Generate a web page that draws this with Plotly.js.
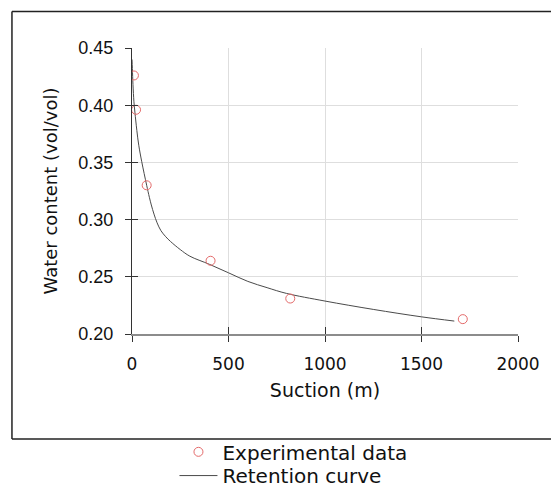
<!DOCTYPE html>
<html>
<head>
<meta charset="utf-8">
<script src="https://cdn.plot.ly/plotly-3.0.1.min.js"></script>
<style>html,body{margin:0;padding:0;background:#fff;}#chart{width:551px;height:491px;}</style>
</head>
<body>
<div id="chart"></div>
<script>
// Experimental data (suction in m, water content vol/vol)
const expSuction = [10, 21, 76, 407, 820, 1714];
const expWater = [0.426, 0.396, 0.330, 0.264, 0.231, 0.213];

// Retention curve
const curveSuction = [0, 2, 5, 10, 15, 25, 35, 50, 76, 90, 100, 114, 130, 150, 175, 200, 250, 300, 400, 500, 600, 700, 800, 1000, 1250, 1500, 1670];
const curveWater = [0.440, 0.432, 0.418, 0.403, 0.394, 0.378, 0.365, 0.351, 0.330, 0.3195, 0.3128, 0.3048, 0.2972, 0.2903, 0.2850, 0.2808, 0.2738, 0.268, 0.261, 0.2535, 0.246, 0.2405, 0.2355, 0.2288, 0.2215, 0.215, 0.2113];

const legendNames = ["Experimental data", "Retention curve"];
const xTitle = "Suction (m)";
const yTitle = "Water content (vol/vol)";
const xRange = [0, 2000];
const yRange = [0.20, 0.45];

const mainFont = "DejaVu Sans, sans-serif";

const traces = [
  {
    x: curveSuction, y: curveWater, type: "scatter", mode: "lines",
    name: legendNames[1], legend: "legend2",
    line: {color: "#4a4a4a", width: 1, shape: "spline", smoothing: 1}
  },
  {
    x: expSuction, y: expWater, type: "scatter", mode: "markers",
    name: legendNames[0], legend: "legend",
    marker: {symbol: "circle-open", size: 9, color: "#e46a6a", line: {width: 1, color: "#e46a6a"}}
  },
  {
    x: [], y: [], xaxis: "x2", yaxis: "y2", type: "scatter", mode: "markers",
    showlegend: false, hoverinfo: "skip"
  }
];

const layout = {
  width: 551, height: 491,
  margin: {l: 132, r: 33, t: 48, b: 157, autoexpand: false},
  paper_bgcolor: "#fff", plot_bgcolor: "#fff",
  showlegend: true,
  xaxis: {
    range: xRange, dtick: 500, tick0: 0,
    showgrid: true, gridcolor: "#dedede", gridwidth: 1, zeroline: false,
    showline: true, linecolor: "#8c8c8c", linewidth: 2,
    ticks: "outside", ticklen: 6, tickcolor: "#333", tickwidth: 1,
    ticklabelstandoff: 8,
    tickfont: {family: mainFont, size: 17, color: "#111"},
    title: {text: xTitle, font: {family: mainFont, size: 19, color: "#111"}, standoff: 10},
    automargin: false
  },
  xaxis2: {
    range: xRange, dtick: 500, tick0: 0, overlaying: "x", anchor: "y",
    showgrid: false, zeroline: false, showline: false, showticklabels: false,
    ticks: "inside", ticklen: 7, tickcolor: "#333", tickwidth: 1
  },
  yaxis: {
    range: yRange, dtick: 0.05, tick0: 0.2, tickformat: ".2f",
    showgrid: true, gridcolor: "#dedede", gridwidth: 1, zeroline: false,
    showline: true, linecolor: "#333", linewidth: 1,
    ticks: "outside", ticklen: 6, tickcolor: "#333", tickwidth: 1,
    ticklabelstandoff: 8,
    tickfont: {family: "Liberation Sans, Arial, sans-serif", size: 18, color: "#111"},
    title: {text: yTitle, font: {family: mainFont, size: 18, color: "#111"}, standoff: 16},
    automargin: false
  },
  yaxis2: {
    range: yRange, dtick: 0.05, tick0: 0.2, overlaying: "y", anchor: "x",
    showgrid: false, zeroline: false, showline: false, showticklabels: false,
    ticks: "inside", ticklen: 6, tickcolor: "#333", tickwidth: 1
  },
  legend: {
    x: 0.11, y: -0.412, xanchor: "left", yanchor: "middle", itemwidth: 38,
    bgcolor: "rgba(0,0,0,0)", borderwidth: 0,
    font: {family: mainFont, size: 20, color: "#111"}
  },
  legend2: {
    x: 0.11, y: -0.495, xanchor: "left", yanchor: "middle", itemwidth: 38,
    bgcolor: "rgba(0,0,0,0)", borderwidth: 0,
    font: {family: mainFont, size: 20, color: "#111"}
  },
  shapes: [
    {type: "line", xref: "paper", yref: "paper", x0: -0.311, x1: 1.2, y0: 1.128, y1: 1.128,
     line: {color: "#222", width: 1.5}, layer: "below"},
    {type: "line", xref: "paper", yref: "paper", x0: -0.311, x1: 1.2, y0: -0.367, y1: -0.367,
     line: {color: "#222", width: 1.5}, layer: "below"},
    {type: "line", xref: "paper", yref: "paper", x0: -0.311, x1: -0.311, y0: -0.367, y1: 1.128,
     line: {color: "#222", width: 1.5}, layer: "below"}
  ]
};

Plotly.newPlot("chart", traces, layout, {displayModeBar: false, staticPlot: true});
</script>
</body>
</html>
